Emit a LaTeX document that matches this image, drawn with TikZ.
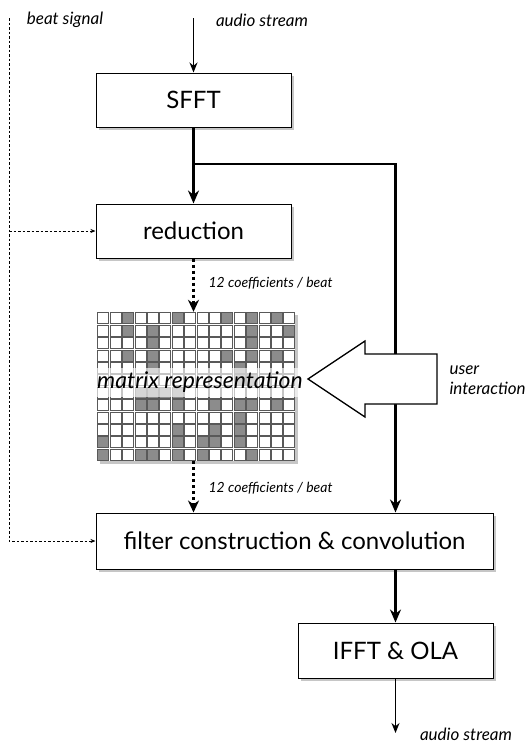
\documentclass[tikz,border=0pt]{standalone}
\usepackage{fontspec}
\setmainfont{Lato}
\usetikzlibrary{arrows.meta,shadows,positioning,fit,calc}

\tikzset{
  block/.style={draw=black, line width=1pt, fill=white, minimum height=54pt, inner sep=0pt,
    font=\fontsize{24}{28}\selectfont,
    drop shadow={opacity=0.45, shadow xshift=3pt, shadow yshift=-3pt}},
  flow/.style={line width=2.8pt, -{Stealth[length=13pt,width=11pt]}},
  feed/.style={line width=1.2pt, -{Stealth[length=10pt,width=8pt]}},
  coef/.style={line width=3pt, dash pattern=on 3pt off 3pt, -{Stealth[length=12pt,width=11pt]}},
  beat/.style={line width=0.8pt, dash pattern=on 2.5pt off 2pt, -{Stealth[length=5pt,width=4pt]}},
  note/.style={font=\fontsize{17}{20}\selectfont\itshape},
  coefnote/.style={font=\fontsize{14}{16}\selectfont\itshape, anchor=west},
  cell/.style={draw=black!65, line width=0.8pt, fill=white},
  hit/.style={cell, fill=black!45}
}

\begin{document}
\begin{tikzpicture}[x=1pt,y=-1pt]
\useasboundingbox (0,0) rectangle (527,742);

% blocks
\node[block, minimum width=195pt] (sfft) at (193.5,100) {SFFT};
\node[block, minimum width=195pt] (reduction) at (193.5,231) {reduction};
\node[block, minimum width=397pt, minimum height=56pt] (filter) at (294.5,541) {filter construction \& convolution};
\node[block, minimum width=195pt, minimum height=55pt] (ifft) at (395.5,650.5) {IFFT \& OLA};

% chroma matrix
\node[fit={(97,312) (295.4,460.8)}, inner sep=0pt, fill=white,
  drop shadow={opacity=0.45, shadow xshift=3pt, shadow yshift=-3pt}] (mat) {};
\foreach \r in {0,...,11}
  \foreach \c in {0,...,15}
    \draw[cell] ({97.7+\c*12.4},{312.7+\r*12.4}) rectangle ++(11,11);
\foreach \r/\c in {1/3,1/7,1/11,1/13,1/15, 2/3,2/5,2/13,2/16, 3/5,3/13,
  4/3,4/5,4/11,4/13,4/15, 5/5,5/12, 6/12,6/13, 7/4,7/5,7/6,7/7,
  8/4,8/5,8/7,8/10,8/12,8/13,8/15, 9/12, 10/7,10/10,10/12,
  11/1,11/7,11/9,11/10,11/12, 12/1,12/4,12/5,12/7,12/9,12/13}
  \draw[hit] ({97.7+(\c-1)*12.4},{312.7+(\r-1)*12.4}) rectangle ++(11,11);
\node[fill=white, fill opacity=0.65, text opacity=1, minimum width=216pt, minimum height=29pt,
  inner sep=0pt, font=\fontsize{23}{26}\selectfont\itshape] (matlabel) at (200,382.5) {matrix representation};

\coordinate (audioin) at (193.5,18);
\coordinate (split) at (193.5,164);
\coordinate (beattop) at (9,18);
\coordinate (audioout) at (395.5,733);

% signal path
\draw[feed] (audioin) -- (sfft);
\draw[flow] (sfft) -- (reduction);
\draw[flow] (split) -| (filter.north -| ifft.north);
\draw[coef] (reduction.south) -- (reduction.south |- mat.north);
\draw[coef] (mat.south -| sfft.south) -- (filter.north -| sfft.south);
\draw[flow] (filter.south -| ifft.north) -- (ifft.north);
\draw[feed] (ifft) -- (audioout);

% beat signal
\draw[beat] (beattop) |- (filter.west);
\draw[beat] (beattop |- reduction.west) -- (reduction.west);

% user interaction arrow
\draw[line width=1.3pt, fill=white, line join=miter] (308,379) -- (365,341) -- (365,354) -- (437,354)
  -- (437,404) -- (365,404) -- (365,417) -- cycle;

% labels
\node[note] (beatlabel) at (65,20) {beat signal};
\node[note] (audiolabel) at (262,20) {audio stream};
\node[note] (outlabel) at (466,734) {audio stream};
\node[note, anchor=west, align=left] (userlabel) at (446,380) {user\\interaction};
\node[coefnote] (coefin) at (205,283) {12 coefficients / beat};
\node[coefnote] (coefout) at (205,488) {12 coefficients / beat};
\end{tikzpicture}
\end{document}
